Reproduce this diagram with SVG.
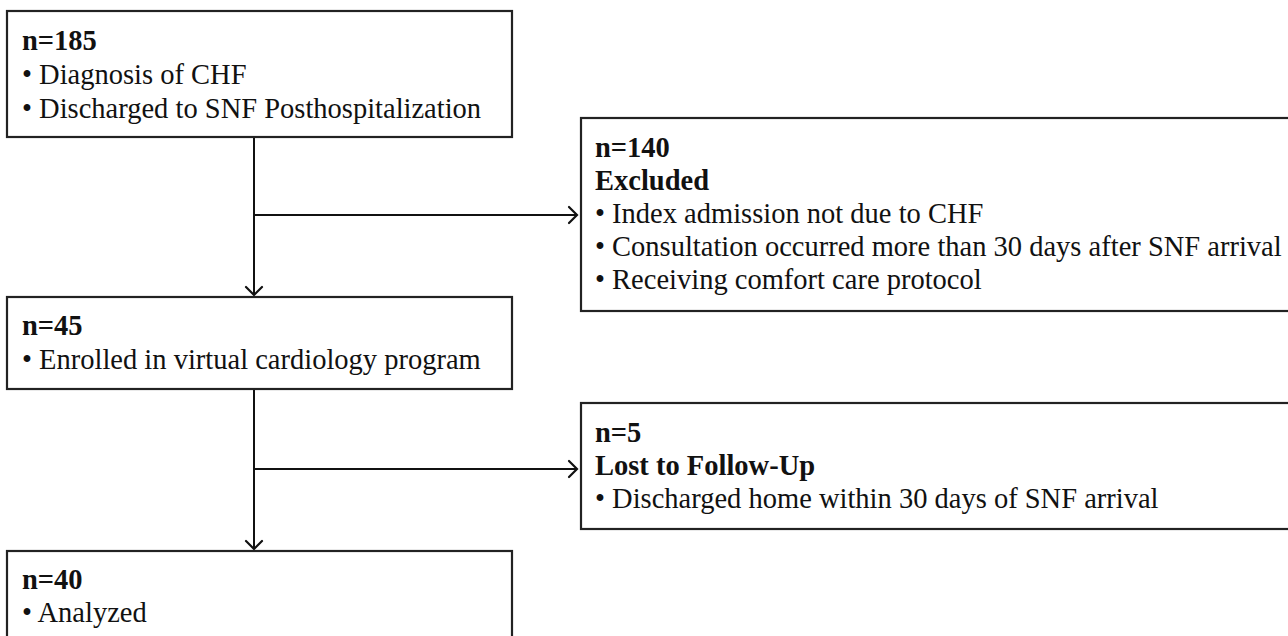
<svg xmlns="http://www.w3.org/2000/svg" width="1288" height="636" viewBox="0 0 1288 636">
<style>
.box{fill:#fff;stroke:#222;stroke-width:2.2}
.t{font-family:"Liberation Serif","Times New Roman",serif;font-size:28.5px;fill:#111}
.b{font-weight:bold}
.ln{fill:none;stroke:#111;stroke-width:2}
.ah{fill:none;stroke:#111;stroke-width:2.2;stroke-linecap:round;stroke-linejoin:miter}
</style>
<rect width="1288" height="636" fill="#fff"/>
<g id="connectors">
<line class="ln" x1="254" y1="137" x2="254" y2="295"/>
<polyline class="ah" points="246,287 254,295 262,287"/>
<line class="ln" x1="254" y1="215" x2="577" y2="215"/>
<polyline class="ah" points="569,207 577,215 569,223"/>
<line class="ln" x1="254" y1="389" x2="254" y2="549"/>
<polyline class="ah" points="246,541 254,549 262,541"/>
<line class="ln" x1="254" y1="469" x2="577" y2="469"/>
<polyline class="ah" points="569,461 577,469 569,477"/>
</g>
<g id="node-185">
<rect class="box" x="7" y="11" width="505" height="126"/>
<text class="t b" x="22" y="50">n=185</text>
<text class="t" x="22" y="84">• Diagnosis of CHF</text>
<text class="t" x="22" y="118">• Discharged to SNF Posthospitalization</text>
</g>
<g id="node-140">
<rect class="box" x="581" y="118" width="720" height="193"/>
<text class="t b" x="595" y="157">n=140</text>
<text class="t b" x="595" y="190">Excluded</text>
<text class="t" x="595" y="223">• Index admission not due to CHF</text>
<text class="t" x="595" y="256">• Consultation occurred more than 30 days after SNF arrival</text>
<text class="t" x="595" y="289">• Receiving comfort care protocol</text>
</g>
<g id="node-45">
<rect class="box" x="7" y="297" width="505" height="92"/>
<text class="t b" x="22" y="335">n=45</text>
<text class="t" x="22" y="369">• Enrolled in virtual cardiology program</text>
</g>
<g id="node-5">
<rect class="box" x="581" y="403" width="720" height="126"/>
<text class="t b" x="595" y="442">n=5</text>
<text class="t b" x="595" y="475">Lost to Follow-Up</text>
<text class="t" x="595" y="508">• Discharged home within 30 days of SNF arrival</text>
</g>
<g id="node-40">
<rect class="box" x="7" y="551" width="505" height="100"/>
<text class="t b" x="22" y="589">n=40</text>
<text class="t" x="22" y="622">• Analyzed</text>
</g>
</svg>
